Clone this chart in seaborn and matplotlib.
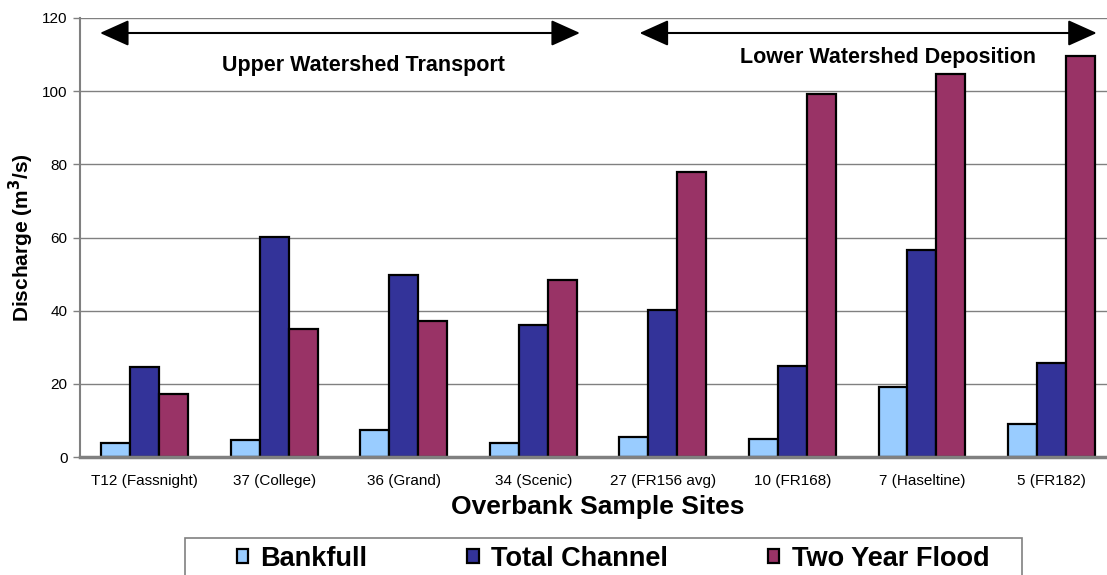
import pandas as pd
import matplotlib
matplotlib.use('Agg')
import matplotlib.pyplot as plt
import seaborn as sns

# Dados
sites = ['T12 (Fassnight)', '37 (College)', '36 (Grand)', '34 (Scenic)',
         '27 (FR156 avg)', '10 (FR168)', '7 (Haseltine)', '5 (FR182)']
bankfull = [3.9, 4.6, 7.5, 3.8, 5.5, 4.8, 19.2, 9.1]
total_channel = [24.6, 60.1, 49.8, 36.0, 40.2, 24.8, 56.7, 25.6]
two_year_flood = [17.2, 34.9, 37.2, 48.4, 78.0, 99.2, 104.7, 109.6]
series = ['Bankfull', 'Total Channel', 'Two Year Flood']
cores = ['#99CCFF', '#333399', '#993366']

df = pd.DataFrame({
    'site': sites * 3,
    'valor': bankfull + total_channel + two_year_flood,
    'serie': [s for s in series for _ in sites],
})

sns.set_style('white')
plt.rcParams['font.family'] = ['Liberation Sans', 'DejaVu Sans']
plt.rcParams['text.color'] = 'black'
plt.rcParams['xtick.color'] = 'black'
plt.rcParams['ytick.color'] = 'black'
plt.rcParams['axes.labelcolor'] = 'black'

fig = plt.figure(figsize=(11.07, 5.75), dpi=100)
ax = fig.add_axes([0.0723, 0.2052, 0.936, 0.7635])

sns.barplot(data=df, x='site', y='valor', hue='serie', palette=cores,
            saturation=1, edgecolor='black', linewidth=1.6, width=0.67, ax=ax)

ax.set_ylim(0, 120)
ax.set_xlim(-0.5, 7.5)
ax.set_yticks(range(0, 121, 20))
ax.yaxis.grid(True, color='#808080', linewidth=1.0)
ax.set_axisbelow(True)
for s in ['top', 'right']:
    ax.spines[s].set_visible(False)
ax.spines['left'].set_color('#808080')
ax.spines['left'].set_linewidth(1.5)
ax.spines['bottom'].set_color('#808080')
ax.spines['bottom'].set_linewidth(2.5)

# ticks do eixo x entre as categorias
ax.set_xticks(range(len(sites)))
ax.set_xticklabels(sites, fontsize=11)
ax.set_xticks([i + 0.5 for i in range(-1, len(sites))], minor=True)
ax.tick_params(axis='x', which='major', length=0, pad=12)
ax.tick_params(axis='x', which='minor', length=6, color='#808080', width=1)
ax.tick_params(axis='y', length=5, color='#808080', width=1, labelsize=11,
               left=True, pad=4)

ax.set_xlabel('Overbank Sample Sites', fontsize=19, fontweight='bold', labelpad=5)
ax.set_ylabel('Discharge (m$^{\\mathbf{3}}$/s)', fontsize=15, fontweight='bold', labelpad=4)

# setas das regioes
seta = dict(arrowstyle='<|-|>,head_length=1.0,head_width=0.45', color='black',
            lw=1.5, mutation_scale=18, shrinkA=0, shrinkB=0)
ax.annotate('', xy=(-0.346, 115.9), xytext=(3.36, 115.9), arrowprops=seta)
ax.annotate('', xy=(3.82, 115.9), xytext=(7.35, 115.9), arrowprops=seta)
ax.text(1.685, 107.1, 'Upper Watershed Transport', ha='center', va='center',
        fontsize=15.5, fontweight='bold')
ax.text(5.74, 109.3, 'Lower Watershed Deposition', ha='center', va='center',
        fontsize=15.5, fontweight='bold')

# legenda sem moldura + retangulo separado
handles, labels = ax.get_legend_handles_labels()
ax.get_legend().remove()
leg = fig.legend(handles, labels, ncol=3, loc='center',
                 bbox_to_anchor=(613 / 1107, 1 - 559 / 575),
                 frameon=False, prop={'weight': 'bold', 'size': 19.5},
                 handlelength=0.42, handleheight=0.42, handletextpad=0.45,
                 columnspacing=3.7, borderaxespad=0, borderpad=0)
caixa = plt.Rectangle((185 / 1107, -0.05), (1022 - 185) / 1107, 0.05 + 1 - 538 / 575,
                      transform=fig.transFigure, fill=False,
                      edgecolor='#808080', linewidth=1.2)
fig.patches.append(caixa)

fig.savefig('out.png', dpi=100)
